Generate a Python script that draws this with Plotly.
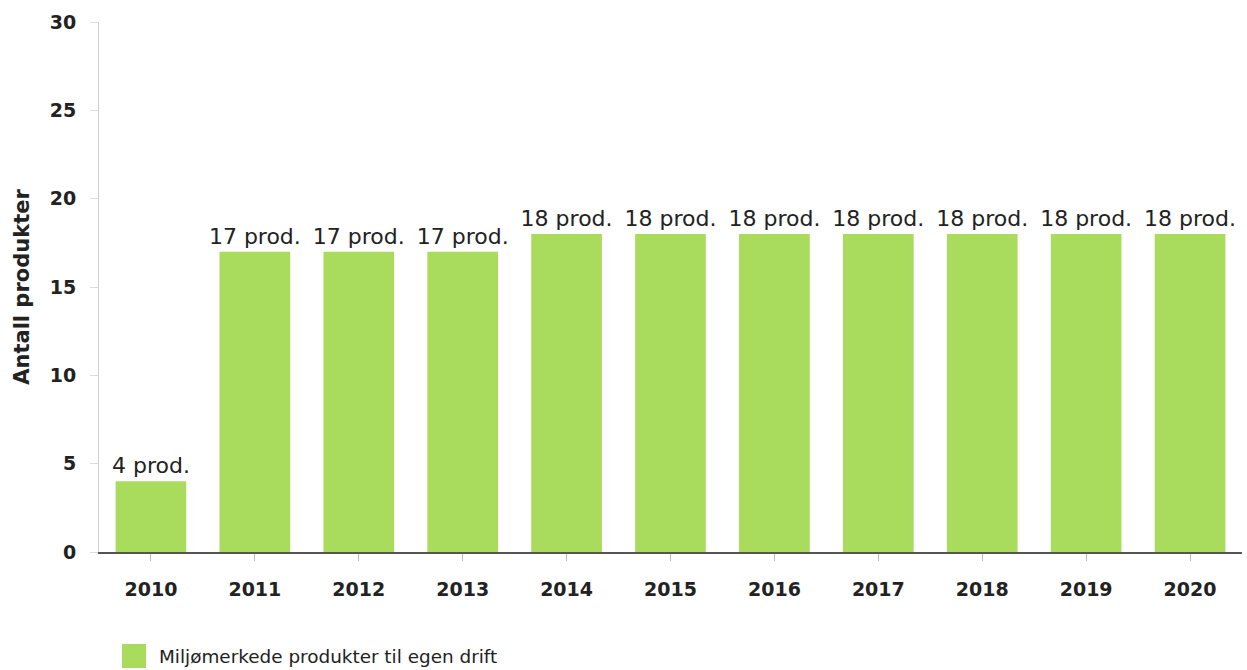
import plotly.graph_objects as go

# data
years = ["2010", "2011", "2012", "2013", "2014", "2015", "2016", "2017", "2018", "2019", "2020"]
antall = [4, 17, 17, 17, 18, 18, 18, 18, 18, 18, 18]
serie_navn = "Miljømerkede produkter til egen drift"
y_ticks = [0, 5, 10, 15, 20, 25, 30]

green = "#a9db5d"
font_family = "DejaVu Sans, Verdana, sans-serif"

fig = go.Figure()
fig.add_trace(go.Bar(
    x=years, y=antall,
    name=serie_navn,
    marker=dict(color=green, line=dict(width=0)),
    texttemplate="%{y} prod.",
    textposition="outside",
    constraintext="none",
    textfont=dict(family=font_family, size=22, color="#222222"),
    cliponaxis=False,
    showlegend=False,
))

fig.update_layout(
    width=1247, height=670,
    margin=dict(l=99, r=5, t=22, b=118),
    plot_bgcolor="white",
    paper_bgcolor="white",
    bargap=0.32,
    font=dict(family=font_family, color="#222222"),
)

fig.update_xaxes(
    showline=True, linewidth=2, linecolor="#555555",
    ticks="outside", ticklen=7, tickcolor="#bbbbbb", tickwidth=1,
    tickfont=dict(size=19, weight="bold", color="#222222"),
    ticklabelstandoff=12,
    showgrid=False,
)
fig.update_yaxes(
    range=[0, 30], tickvals=y_ticks,
    showline=True, linewidth=1, linecolor="#d0d0d0",
    ticks="outside", ticklen=8, tickcolor="#dddddd",
    tickfont=dict(size=19, weight="bold", color="#222222"),
    ticklabelstandoff=10,
    showgrid=False, zeroline=False,
    title=dict(text="Antall produkter", font=dict(size=21, weight="bold", color="#222222"), standoff=14),
)

# legend drawn as a square and a label under the plot
pw = 1247 - 99 - 5
ph = 670 - 22 - 118
fig.add_shape(type="rect", xref="paper", yref="paper",
              x0=(122 - 99) / pw, x1=(146 - 99) / pw,
              y0=-(668 - 552) / ph, y1=-(644 - 552) / ph,
              fillcolor=green, line=dict(width=0))
fig.add_annotation(xref="paper", yref="paper",
                   x=(157 - 99) / pw, y=-(656 - 552) / ph,
                   xanchor="left", yanchor="middle", showarrow=False,
                   text=serie_navn, font=dict(size=18.4, color="#222222"))

# drop the default page margin so the figure sits at the top-left corner
fig.write_html("out.html", config={"displayModeBar": False},
               post_script="document.body.style.margin='0';")
